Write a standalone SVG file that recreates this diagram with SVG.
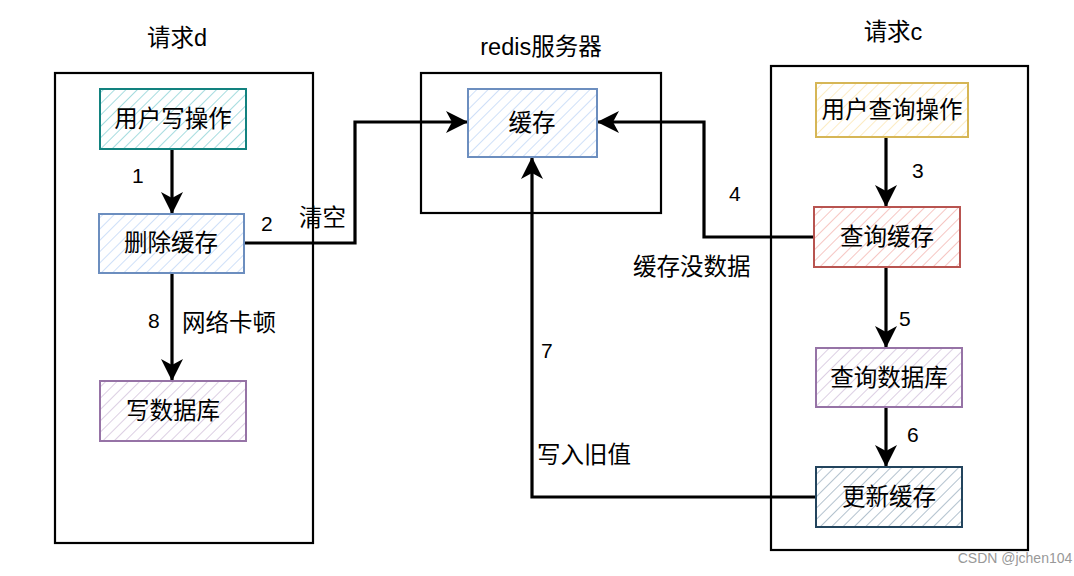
<svg xmlns="http://www.w3.org/2000/svg" width="1074" height="576" viewBox="0 0 1074 576">
<style>
text{font-family:"Liberation Sans","Noto Sans CJK SC",sans-serif;fill:#000;}
.t{font-size:23.5px;text-anchor:middle;dominant-baseline:central;}
.n{font-size:21px;dominant-baseline:central;}
.c{font-size:23.5px;dominant-baseline:central;}
.box{fill:#fff;stroke:#000;stroke-width:2.2;}
.edge{fill:none;stroke:#000;stroke-width:3.2;}
.nd{stroke-width:2;}
</style>
<defs>
<pattern id="hTeal" width="8" height="8" patternUnits="userSpaceOnUse" patternTransform="rotate(45)"><rect width="8" height="8" fill="#fff"/><line x1="0" y1="0" x2="0" y2="8" stroke="#a6dcdf" stroke-width="2"/></pattern>
<pattern id="hBlue" width="8" height="8" patternUnits="userSpaceOnUse" patternTransform="rotate(45)"><rect width="8" height="8" fill="#fff"/><line x1="0" y1="0" x2="0" y2="8" stroke="#cfe0f8" stroke-width="2"/></pattern>
<pattern id="hPurple" width="8" height="8" patternUnits="userSpaceOnUse" patternTransform="rotate(45)"><rect width="8" height="8" fill="#fff"/><line x1="0" y1="0" x2="0" y2="8" stroke="#dccfe3" stroke-width="2"/></pattern>
<pattern id="hYellow" width="8" height="8" patternUnits="userSpaceOnUse" patternTransform="rotate(45)"><rect width="8" height="8" fill="#fff"/><line x1="0" y1="0" x2="0" y2="8" stroke="#fcecc4" stroke-width="2"/></pattern>
<pattern id="hRed" width="8" height="8" patternUnits="userSpaceOnUse" patternTransform="rotate(45)"><rect width="8" height="8" fill="#fff"/><line x1="0" y1="0" x2="0" y2="8" stroke="#f6c6c3" stroke-width="2"/></pattern>
<pattern id="hDark" width="8" height="8" patternUnits="userSpaceOnUse" patternTransform="rotate(45)"><rect width="8" height="8" fill="#fff"/><line x1="0" y1="0" x2="0" y2="8" stroke="#b3c2ce" stroke-width="2"/></pattern>
<marker id="arr" viewBox="0 0 22 22" refX="21" refY="11" markerWidth="22" markerHeight="22" markerUnits="userSpaceOnUse" orient="auto"><path d="M0,0 L22,11 L0,22 L6,11 Z" fill="#000"/></marker>
</defs>
<rect width="1074" height="576" fill="#fff"/>

<g id="containers">
<rect class="box" x="55" y="73" width="258" height="470"/>
<rect class="box" x="421" y="73" width="240" height="140"/>
<rect class="box" x="771" y="66" width="257" height="484"/>
</g>
<g id="titles">
<text class="t" x="177" y="38">请求d</text>
<text class="t" x="541" y="47">redis服务器</text>
<text class="t" x="893" y="32">请求c</text>
</g>

<g id="connectors">
<path class="edge" d="M172,149 L172,213" marker-end="url(#arr)"/>
<path class="edge" d="M172,273 L172,380" marker-end="url(#arr)"/>
<path class="edge" d="M244,243 L355,243 L355,122 L467,122" marker-end="url(#arr)"/>
<path class="edge" d="M814,237 L704,237 L704,122 L598,122" marker-end="url(#arr)"/>
<path class="edge" d="M816,497 L532,497 L532,158" marker-end="url(#arr)"/>
<path class="edge" d="M886,137 L886,206" marker-end="url(#arr)"/>
<path class="edge" d="M886,267 L886,347" marker-end="url(#arr)"/>
<path class="edge" d="M886,407 L886,466" marker-end="url(#arr)"/>
<text class="n" x="132" y="175">1</text>
<text class="n" x="261" y="223">2</text>
<text class="c" x="299" y="218">清空</text>
<text class="n" x="912" y="170">3</text>
<text class="n" x="729" y="193">4</text>
<text class="c" x="633" y="267">缓存没数据</text>
<text class="n" x="899" y="318">5</text>
<text class="n" x="907" y="434">6</text>
<text class="n" x="541" y="350">7</text>
<text class="c" x="537" y="455">写入旧值</text>
<text class="n" x="148" y="320">8</text>
<text class="c" x="182" y="323">网络卡顿</text>
</g>

<g id="n-write-op"><rect class="nd" x="100" y="89" width="146" height="60" fill="url(#hTeal)" stroke="#12827f"/><text class="t" x="173" y="119">用户写操作</text></g>
<g id="n-del-cache"><rect class="nd" x="99" y="214" width="145" height="59" fill="url(#hBlue)" stroke="#6c8ebf"/><text class="t" x="171" y="243">删除缓存</text></g>
<g id="n-write-db"><rect class="nd" x="100" y="381" width="146" height="60" fill="url(#hPurple)" stroke="#9673a6"/><text class="t" x="173" y="411">写数据库</text></g>
<g id="n-cache"><rect class="nd" x="468" y="89" width="129" height="68" fill="url(#hBlue)" stroke="#6c8ebf"/><text class="t" x="532" y="123">缓存</text></g>
<g id="n-query-op"><rect class="nd" x="816" y="83" width="152" height="54" fill="url(#hYellow)" stroke="#d6b656"/><text class="t" x="892" y="110">用户查询操作</text></g>
<g id="n-query-cache"><rect class="nd" x="814" y="207" width="146" height="60" fill="url(#hRed)" stroke="#b85450"/><text class="t" x="887" y="237">查询缓存</text></g>
<g id="n-query-db"><rect class="nd" x="816" y="348" width="146" height="59" fill="url(#hPurple)" stroke="#9673a6"/><text class="t" x="889" y="378">查询数据库</text></g>
<g id="n-update-cache"><rect class="nd" x="816" y="467" width="146" height="60" fill="url(#hDark)" stroke="#23445d"/><text class="t" x="889" y="497">更新缓存</text></g>

<text x="1015" y="558" style="font-size:14px;fill:#999;text-anchor:middle;dominant-baseline:central;">CSDN @jchen104</text>
</svg>
